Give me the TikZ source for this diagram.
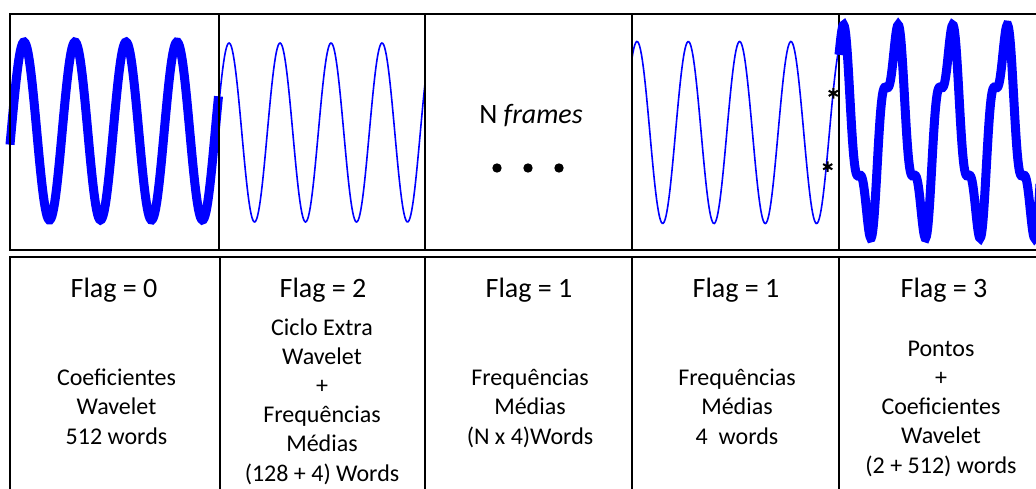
\documentclass[tikz,border=0pt]{standalone}
\usepackage{fontspec}
\usetikzlibrary{plotmarks}
\setmainfont{Carlito}
\definecolor{wblue}{RGB}{0,0,255}
\begin{document}
\begin{tikzpicture}[x=1pt,y=-1pt,
  cell/.style={draw=black, line width=1.8pt, inner sep=0pt, outer sep=0pt},
  thinwave/.style={draw=wblue, line width=1.6pt},
  thickwave/.style={draw=wblue, line width=9pt},
  flagtext/.style={font=\fontsize{28}{34}\selectfont, anchor=base, inner sep=0pt},
  bodytext/.style={font=\fontsize{24}{29.2}\selectfont, align=center, anchor=base, inner sep=0pt},
  starmark/.style={draw=black, line width=2pt, mark=asterisk, mark size=5.3pt},
  dot/.style={circle, fill=black, inner sep=0pt, minimum size=9.4pt}
]
\useasboundingbox (0,0) rectangle (1036,489);
\clip (0,0) rectangle (1036,489);

% waves (thin ones and the first thick one, under the frame)
\draw[thickwave] plot[domain=10:218.5, samples=220, variable=\x]
  (\x, {131 - 89*sin((360/51)*(\x-11.25))});
\draw[thinwave] plot[domain=219:425, samples=220, variable=\x]
  (\x, {132.5 - 89.5*sin((360/51)*(\x-216.3))});
\draw[thinwave] plot[domain=632:839, samples=220, variable=\x]
  (\x, {132.5 - 91*sin((360/51.3)*(\x-624.2))});

% top row cells
\node[cell, minimum width=209pt, minimum height=236pt] (t1) at (114.5,132) {};
\node[cell, minimum width=206pt, minimum height=236pt] (t2) at (322,132) {};
\node[cell, minimum width=207pt, minimum height=236pt] (t3) at (528.5,132) {};
\node[cell, minimum width=207pt, minimum height=236pt] (t4) at (735.5,132) {};
\node[cell, minimum width=211pt, minimum height=236pt] (t5) at (944.5,132) {};

% bottom row cells
\node[cell, minimum width=210pt, minimum height=263pt] (b1) at (115,388.5) {};
\node[cell, minimum width=205pt, minimum height=263pt] (b2) at (322.5,388.5) {};
\node[cell, minimum width=207pt, minimum height=263pt] (b3) at (528.5,388.5) {};
\node[cell, minimum width=207pt, minimum height=263pt] (b4) at (735.5,388.5) {};
\node[cell, minimum width=211pt, minimum height=263pt] (b5) at (944.5,388.5) {};

% distorted thick wave of the last frame
\draw[thickwave] plot[domain=839:1040, samples=300, variable=\x]
  (\x, {131.5 - 88.75*(sin((360/54.6)*(\x-826.6)) + 0.3*cos((1080/54.6)*(\x-826.6)))});

% markers on the fourth wave
\draw[starmark] plot[only marks] coordinates {(833.3,93.3) (827.7,166.7)};

% N frames
\node[flagtext] (nf) at (531,124) {N \textit{frames}};
\node[dot] (d1) at (497,168) {};
\node[dot] (d2) at (528,168) {};
\node[dot] (d3) at (559,168) {};

% flags
\node[flagtext] (f1) at (114,297) {Flag = 0};
\node[flagtext] (f2) at (323,297) {Flag = 2};
\node[flagtext] (f3) at (529,297) {Flag = 1};
\node[flagtext] (f4) at (736,297) {Flag = 1};
\node[flagtext] (f5) at (944,297) {Flag = 3};

% descriptions (base anchor = baseline of the last line)
\node[bodytext] (c1) at (116.5,444) {Coeficientes\\Wavelet\\512 words};
\node[bodytext] (c2) at (322,481) {Ciclo Extra\\Wavelet\\+\\Frequências\\Médias\\(128 + 4) Words};
\node[bodytext] (c3) at (530,444) {Frequências\\Médias\\(N x 4)Words};
\node[bodytext] (c4) at (737,444) {Frequências\\Médias\\4\ \ words};
\node[bodytext] (c5) at (941,473) {Pontos\\+\\Coeficientes\\Wavelet\\(2 + 512) words};
\end{tikzpicture}
\end{document}
